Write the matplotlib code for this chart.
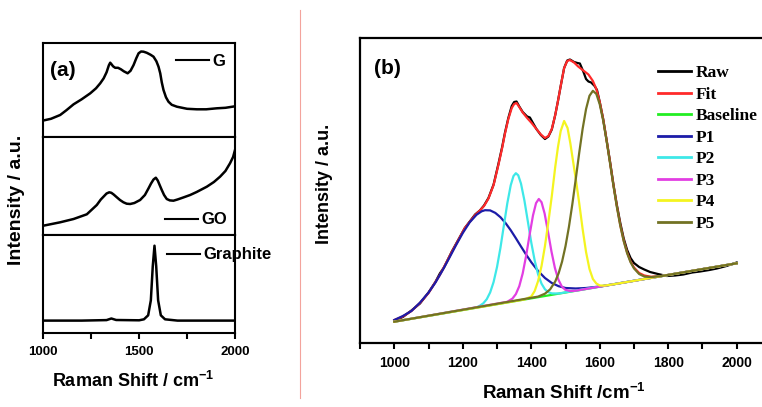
import matplotlib.pyplot as plt
from matplotlib.lines import Line2D
from matplotlib.ticker import MultipleLocator

# ---- panel (a): stacked spectra (intensity in arbitrary units) ----
g_shift = [1000, 1040, 1088, 1120, 1158, 1200, 1245, 1275, 1297, 1315, 1330, 1342, 1349,
           1356, 1364, 1375, 1390, 1405, 1420, 1440, 1455, 1471, 1485, 1497, 1510, 1523,
           1540, 1560, 1575, 1590, 1601, 1610, 1618, 1627, 1640, 1653, 1670, 1697, 1750,
           1801, 1850, 1905, 1950, 2000]
g_int = [16.8, 18.5, 22.3, 27.0, 33.0, 38.0, 44.0, 49.0, 54.0, 59.0, 65.0, 72.0, 74.6,
         73.0, 71.0, 69.5, 69.5, 68.0, 66.0, 64.0, 66.5, 72.3, 79.0, 84.0, 85.8, 85.6,
         84.5, 82.5, 80.6, 76.0, 70.6, 64.0, 55.0, 47.3, 40.0, 35.6, 32.5, 30.6, 28.5,
         28.0, 28.0, 29.0, 29.5, 31.0]

go_shift = [1000, 1088, 1158, 1227, 1279, 1300, 1314, 1330, 1344, 1355, 1367, 1380, 1400,
            1418, 1435, 1453, 1475, 1505, 1530, 1549, 1562, 1575, 1587, 1597, 1608, 1618,
            1630, 1644, 1660, 1679, 1700, 1730, 1766, 1800, 1853, 1890, 1922, 1950, 1974,
            1990, 2000]
go_int = [9.3, 12.7, 16.0, 20.7, 30.0, 35.5, 38.3, 41.5, 42.7, 42.2, 40.5, 38.3, 35.0,
          32.7, 31.3, 31.0, 32.0, 35.0, 40.0, 46.7, 51.5, 55.5, 57.3, 54.5, 49.5, 45.0,
          40.0, 36.0, 34.6, 34.3, 35.5, 37.5, 40.0, 43.0, 48.3, 53.0, 58.3, 64.0, 71.7,
          78.0, 85.0]

graphite_shift = [1000, 1200, 1330, 1355, 1380, 1500, 1525, 1547, 1561, 1571, 1580, 1589,
                  1599, 1613, 1635, 1700, 1800, 2000]
graphite_int = [12.7, 12.7, 13.2, 14.8, 13.3, 13.0, 14.0, 18.0, 33.0, 67.0, 87.6, 67.0,
                33.0, 18.0, 14.0, 12.7, 12.7, 12.7]

# ---- panel (b): peak fitting ----
raw_shift = [1000, 1025, 1050, 1075, 1100, 1120, 1133, 1145, 1168, 1206, 1236, 1250, 1262,
             1275, 1290, 1304, 1315, 1323, 1333, 1343, 1350, 1357, 1365, 1375, 1388, 1396,
             1405, 1415, 1428, 1440, 1450, 1460, 1470, 1478, 1486, 1496, 1505, 1513, 1525,
             1535, 1542, 1552, 1560, 1567, 1575, 1585, 1592, 1600, 1610, 1620, 1630, 1640,
             1650, 1660, 1670, 1680, 1690, 1700, 1715, 1730, 1747, 1770, 1796, 1820, 1844,
             1870, 1893, 1920, 1942, 1970, 2000]
raw_int = [22.5, 26.0, 32.5, 39.5, 50.5, 61.0, 69.5, 75.5, 91.5, 115.0, 128.5, 132.5,
           137.5, 145.0, 158.5, 179.0, 196.0, 210.0, 225.0, 237.0, 241.0, 241.5, 236.5,
           231.0, 226.5, 225.5, 220.0, 214.0, 208.0, 204.0, 206.5, 213.5, 228.0, 242.0,
           257.0, 275.0, 282.5, 283.5, 281.0, 280.0, 279.5, 271.5, 264.0, 261.5, 260.5,
           257.0, 253.0, 241.0, 224.0, 203.0, 181.5, 158.5, 138.0, 120.0, 104.5, 93.0,
           85.0, 80.0, 76.0, 73.5, 71.0, 69.0, 67.0, 67.5, 68.5, 70.5, 71.5, 73.0, 74.5,
           77.0, 80.5]

fit_shift = [1000, 1025, 1050, 1075, 1100, 1133, 1168, 1206, 1236, 1250, 1262, 1275, 1290,
             1304, 1315, 1323, 1333, 1343, 1350, 1357, 1365, 1375, 1388, 1401, 1415, 1428,
             1440, 1450, 1460, 1470, 1478, 1486, 1496, 1505, 1513, 1525, 1537, 1552, 1567,
             1580, 1590, 1600, 1610, 1620, 1630, 1640, 1650, 1660, 1670, 1680, 1690, 1700,
             1715, 1730, 1750, 1780, 2000]
fit_int = [23.0, 26.5, 32.0, 40.0, 50.0, 68.0, 91.0, 115.0, 128.0, 132.5, 137.0, 144.5,
           158.0, 178.0, 195.0, 209.0, 224.0, 235.0, 239.0, 240.0, 236.0, 230.5, 225.0,
           220.0, 214.0, 208.5, 205.0, 207.0, 214.0, 228.0, 242.0, 257.0, 275.0, 282.0,
           283.0, 280.5, 276.5, 272.5, 268.5, 262.0, 254.0, 241.0, 224.0, 203.0, 181.0,
           158.0, 137.0, 118.0, 102.5, 90.5, 81.5, 75.5, 70.0, 67.5, 66.2, 67.0, 79.7]

baseline_shift = [1000, 2000]
baseline_int = [21.3, 79.7]

p1_shift = [1000, 1025, 1050, 1075, 1100, 1120, 1140, 1160, 1180, 1200, 1220, 1240, 1255,
            1265, 1280, 1295, 1310, 1325, 1340, 1355, 1370, 1385, 1400, 1420, 1440, 1460,
            1480, 1500, 1530, 1560, 1600, 1650, 2000]
p1_int = [23.0, 27.0, 32.0, 40.4, 50.4, 60.4, 72.1, 84.7, 97.7, 110.0, 120.6, 128.2,
          131.7, 132.8, 132.6, 130.1, 125.8, 119.9, 112.8, 104.8, 96.5, 88.4, 80.8, 72.0,
          65.0, 60.0, 56.8, 55.0, 54.5, 55.0, 56.5, 59.3, 79.7]

p2_shift = [1000, 1240, 1250, 1260, 1270, 1280, 1290, 1300, 1310, 1320, 1330, 1340, 1348,
            1355, 1362, 1370, 1380, 1390, 1400, 1410, 1420, 1430, 1440, 1450, 1460, 1480,
            2000]
p2_int = [21.3, 35.5, 37.3, 39.7, 43.8, 50.6, 61.0, 76.0, 95.2, 117.5, 139.6, 157.7,
          166.9, 169.8, 167.7, 159.4, 142.5, 121.6, 100.5, 82.5, 68.6, 59.3, 53.7, 50.8,
          49.6, 49.5, 79.7]

p3_shift = [1000, 1330, 1345, 1355, 1365, 1375, 1385, 1395, 1405, 1414, 1422, 1430, 1439,
            1449, 1459, 1469, 1479, 1489, 1499, 1514, 1530, 2000]
p3_int = [21.3, 41.2, 44.4, 48.9, 56.8, 69.6, 87.2, 107.9, 127.5, 139.9, 144.0, 140.8,
          129.5, 111.0, 91.5, 75.1, 63.5, 56.7, 53.3, 51.9, 52.3, 79.7]

p4_shift = [1000, 1380, 1400, 1410, 1420, 1430, 1440, 1450, 1460, 1470, 1478, 1486, 1496,
            1506, 1514, 1522, 1530, 1540, 1550, 1560, 1570, 1580, 1590, 1600, 1615, 1640,
            2000]
p4_int = [21.3, 43.5, 46.5, 52.0, 62.0, 77.0, 97.0, 121.0, 147.0, 176.0, 196.0, 212.0,
          222.0, 215.0, 200.0, 182.0, 164.0, 140.0, 114.0, 91.0, 74.0, 64.0, 59.5, 57.5,
          57.4, 58.7, 79.7]

p5_shift = [1000, 1420, 1440, 1455, 1470, 1480, 1490, 1500, 1510, 1520, 1530, 1540, 1550,
            1560, 1570, 1580, 1590, 1600, 1610, 1620, 1630, 1640, 1650, 1660, 1670, 1680,
            1690, 1700, 1715, 1730, 1750, 1780, 2000]
p5_int = [21.3, 46.4, 49.3, 53.6, 61.5, 69.8, 81.4, 96.8, 116.1, 138.9, 164.1, 190.0,
          214.1, 233.9, 247.2, 252.2, 249.1, 238.7, 222.6, 202.3, 179.9, 157.3, 136.1,
          117.3, 101.9, 89.8, 80.8, 74.6, 69.0, 66.5, 65.9, 66.9, 79.7]

fit_labels = ["Raw", "Fit", "Baseline", "P1", "P2", "P3", "P4", "P5"]
fit_colors = ["#000000", "#ff2a2a", "#22ee22", "#1c1ca8", "#3ee8e8", "#e23ee2",
              "#f4f420", "#727224"]

W, H = 762, 407


def fig_box(left, top, right, bottom):
    # pixel box -> figure fraction [l, b, w, h]
    return [left / W, 1 - bottom / H, (right - left) / W, (bottom - top) / H]


def style_spines(ax, width=1.5):
    for sp in ax.spines.values():
        sp.set_linewidth(width)


def draw_panel_a(fig):
    x0, x1 = 43.3, 235.0
    rows = [(42.7, 137.3), (137.3, 235.0), (235.0, 333.3)]
    series = [(g_shift, g_int, "G"), (go_shift, go_int, "GO"),
              (graphite_shift, graphite_int, "Graphite")]
    legend_pos = [(176, 61), (165, 220), (167, 255)]

    axes = []
    for (top, bottom), (xs, ys, name), (lx, ly) in zip(rows, series, legend_pos):
        ax = fig.add_axes(fig_box(x0, top, x1, bottom))
        ax.plot(xs, ys, color="black", lw=1.8, label=name, solid_joinstyle="round")
        ax.set_xlim(1000, 2000)
        ax.set_ylim(0, bottom - top)
        ax.set_yticks([])
        style_spines(ax)
        leg = ax.legend(loc="center left", bbox_to_anchor=(lx / W, 1 - ly / H),
                        bbox_transform=fig.transFigure, frameon=False, borderpad=0,
                        borderaxespad=0, handlelength=2.0, handletextpad=0.2,
                        prop={"size": 12, "weight": "bold"})
        for line in leg.get_lines():
            line.set_linewidth(1.5)
        axes.append(ax)

    for ax in axes[:2]:
        ax.set_xticks([])

    ax_bot = axes[2]
    ax_bot.xaxis.set_major_locator(MultipleLocator(500))
    ax_bot.xaxis.set_minor_locator(MultipleLocator(250))
    ax_bot.tick_params(axis="x", which="both", direction="out", width=1.5,
                       labelsize=9.5, pad=5)
    ax_bot.tick_params(axis="x", which="major", length=4.5)
    ax_bot.tick_params(axis="x", which="minor", length=4)
    ax_bot.set_xlabel(r"Raman Shift / cm$^{-1}$", fontsize=13, fontweight="bold")
    ax_bot.xaxis.set_label_coords(0.468, (333.3 - 371) / 98.3)

    ax_mid = axes[1]
    ax_mid.set_ylabel("Intensity / a.u.", fontsize=14, fontweight="bold")
    ax_mid.yaxis.set_label_coords((25 - x0) / (x1 - x0), (235 - 200) / 97.7)

    axes[0].text((50 - x0) / (x1 - x0), (137.3 - 71) / 94.6, "(a)", transform=axes[0].transAxes,
                 ha="left", va="center", fontsize=15, fontweight="bold")


def draw_panel_b(fig):
    # x: 1000 -> px 394.3, 2000 -> px 736.7; the right spine falls just off the image
    px_per = (736.7 - 394.3) / 1000
    left = 394.3 - 100 * px_per
    right = 394.3 + 1100 * px_per
    ax = fig.add_axes(fig_box(left, 38, right, 343))

    curves = [(raw_shift, raw_int), (fit_shift, fit_int), (baseline_shift, baseline_int),
              (p1_shift, p1_int), (p2_shift, p2_int), (p3_shift, p3_int),
              (p4_shift, p4_int), (p5_shift, p5_int)]
    for (xs, ys), label, color in zip(curves, fit_labels, fit_colors):
        ax.plot(xs, ys, color=color, lw=1.6, label=label, solid_joinstyle="round")

    ax.set_xlim(900, 2100)
    ax.set_ylim(0, 305)
    ax.set_yticks([])
    style_spines(ax, 1.6)
    ax.xaxis.set_major_locator(MultipleLocator(200))
    ax.xaxis.set_minor_locator(MultipleLocator(100))
    ax.set_xticks(range(1000, 2001, 200))
    ax.tick_params(axis="x", which="both", direction="out", width=1.5, labelsize=10, pad=5)
    ax.tick_params(axis="x", which="major", length=4.5)
    ax.tick_params(axis="x", which="minor", length=4)

    ax.set_xlabel(r"Raman Shift /cm$^{-1}$", fontsize=13.5, fontweight="bold")
    ax.xaxis.set_label_coords((564 - left) / (right - left), (343 - 383) / 305)
    ax.set_ylabel("Intensity / a.u.", fontsize=13, fontweight="bold")
    ax.yaxis.set_label_coords((333 - left) / (right - left), (343 - 184) / 305)

    ax.text((374 - left) / (right - left), (343 - 68.5) / 305, "(b)", transform=ax.transAxes,
            ha="left", va="center", fontsize=15, fontweight="bold")

    leg = ax.legend(loc="upper left", bbox_to_anchor=(658 / W, 1 - 65 / H),
                    bbox_transform=fig.transFigure, frameon=False, borderpad=0,
                    borderaxespad=0, handlelength=1.9, handletextpad=0.25,
                    labelspacing=0.31,
                    prop={"family": "Liberation Serif", "size": 12.5, "weight": "bold"})
    for line in leg.get_lines():
        line.set_linewidth(2.0)


def main() -> None:
    plt.rcParams["font.family"] = ["Liberation Sans", "DejaVu Sans"]
    plt.rcParams["font.weight"] = "bold"
    plt.rcParams["mathtext.fontset"] = "custom"
    plt.rcParams["mathtext.rm"] = "Liberation Sans:bold"
    plt.rcParams["mathtext.bf"] = "Liberation Sans:bold"
    plt.rcParams["mathtext.default"] = "rm"

    fig = plt.figure(figsize=(W / 100, H / 100), dpi=100)
    draw_panel_a(fig)
    draw_panel_b(fig)

    # thin divider between the two panels
    fig.add_artist(Line2D([300 / W, 300 / W], [1 - 10 / H, 1 - 398 / H],
                          transform=fig.transFigure, color="#f3a39c", lw=0.8))

    fig.savefig("out.png", dpi=100)
    plt.close(fig)


if __name__ == "__main__":
    main()
